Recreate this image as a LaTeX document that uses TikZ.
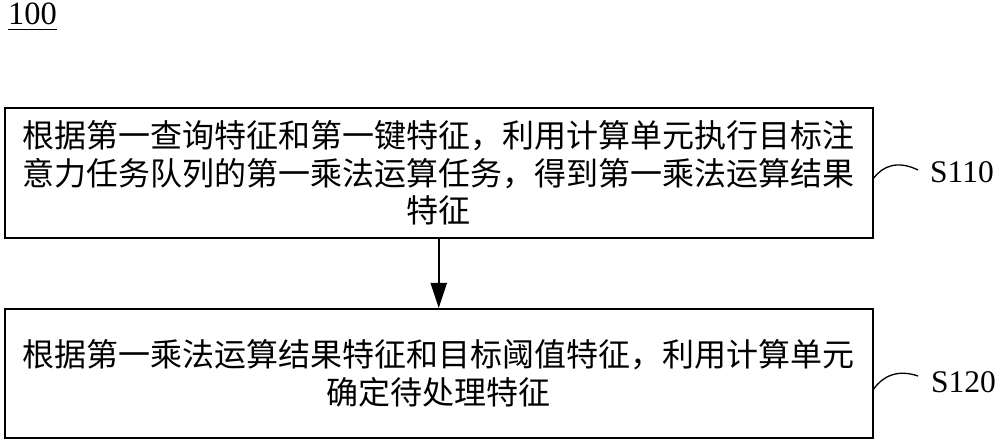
\documentclass[tikz,border=0pt]{standalone}
\usepackage{fontspec}
\setmainfont{Liberation Serif}
\newfontfamily\cjk{Noto Sans CJK SC}
\usetikzlibrary{arrows.meta,calc}
\begin{document}
\begin{tikzpicture}[x=1pt,y=-1pt,
  stepbox/.style={draw,line width=2pt,minimum width=868pt,minimum height=130pt,
    inner sep=0pt,align=center,font=\cjk\fontsize{32}{37.5}\selectfont},
  lbl/.style={inner sep=0pt,font=\fontsize{31.5}{31.5}\selectfont},
  flow/.style={line width=2pt,-{Triangle[length=25pt,width=16pt]}},
  lead/.style={line width=1.3pt}]
\useasboundingbox (0,0) rectangle (1000,443);
\node[inner sep=0pt,anchor=base west,font=\fontsize{32.5}{32.5}\selectfont] (num) at (8,25) {100};
\draw[line width=1.6pt] ($(num.base west)+(0,4.5)$) -- ($(num.base east)+(0,4.5)$);
\node[stepbox] (b1) at (438.75,173) {根据第一查询特征和第一键特征，利用计算单元执行目标注\\意力任务队列的第一乘法运算任务，得到第一乘法运算结果\\特征};
\node[stepbox,minimum height=129pt] (b2) at (438.75,373.5) {根据第一乘法运算结果特征和目标阈值特征，利用计算单元\\确定待处理特征};
\draw[flow] (b1) -- (b2);
\node[lbl,anchor=west] (s110) at (930,172) {S110};
\node[lbl,anchor=west] (s120) at (931,382) {S120};
\coordinate (c1a) at ($(b1.east)+(0,5)$);
\coordinate (c1b) at ($(s110.west)+(-12,-2)$);
\coordinate (c2a) at ($(b2.east)+(0,15.5)$);
\coordinate (c2b) at ($(s120.west)+(-13,-6)$);
\draw[lead] (c1a) .. controls ($(c1a)+(9,-12)$) and ($(c1a)+(24,-18)$) .. (c1b);
\draw[lead] (c2a) .. controls ($(c2a)+(9,-13)$) and ($(c2a)+(24,-20)$) .. (c2b);
\end{tikzpicture}
\end{document}
